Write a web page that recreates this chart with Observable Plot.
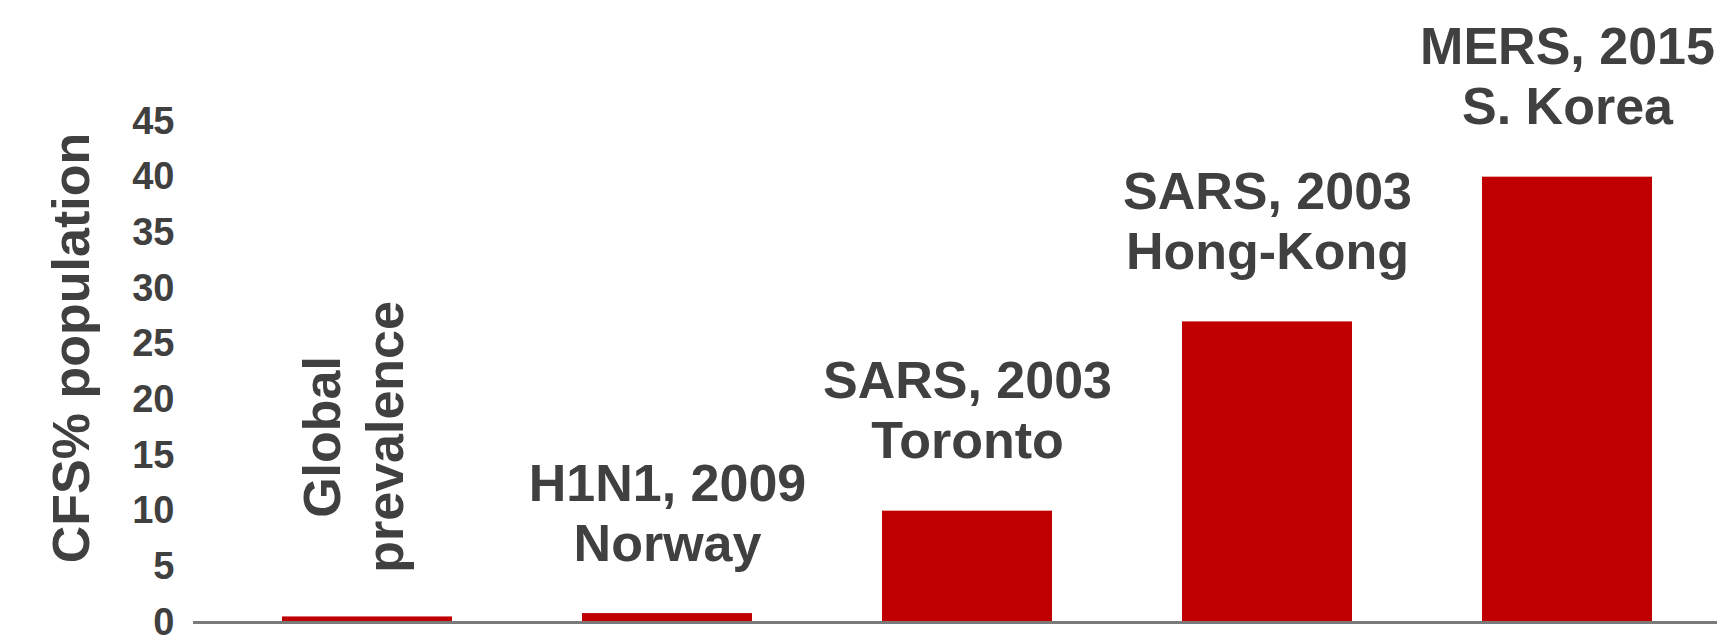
<!DOCTYPE html>
<html>
<head>
<meta charset="utf-8">
<script src="https://cdn.jsdelivr.net/npm/d3@7"></script>
<script src="https://cdn.jsdelivr.net/npm/@observablehq/plot@0.6"></script>
<style>
  html, body { margin: 0; padding: 0; background: #ffffff; }
</style>
</head>
<body>
<div id="chart"></div>
<script>
// Categories (bar labels) and values (CFS % of population)
const categories = [
  "Global\nprevalence",
  "H1N1, 2009\nNorway",
  "SARS, 2003\nToronto",
  "SARS, 2003\nHong-Kong",
  "MERS, 2015\nS. Korea"
];
const values = [0.5, 0.8, 10, 27, 40];
const yTicks = [0, 5, 10, 15, 20, 25, 30, 35, 40, 45];
const yLabel = "CFS% population";

const data = categories.map((c, i) => ({label: c, value: values[i]}));

const FONT = "'Liberation Sans', Arial, Helvetica, sans-serif";
const TEXT = "#404040";
const RED = "#C00000";

const chart = Plot.plot({
  width: 1722,
  height: 635,
  marginTop: 121,
  marginBottom: 13,
  marginLeft: 193,
  marginRight: 5,
  style: {fontFamily: FONT, fontSize: "38px", fontWeight: "bold", color: TEXT, background: "#ffffff"},
  x: {domain: categories, range: [217, 1717], paddingInner: 0.433, paddingOuter: 0.2165, axis: null},
  y: {domain: [0, 45], ticks: yTicks, tickSize: 0, tickPadding: 19, label: null, tickFormat: d => String(d)},
  marks: [
    Plot.barY(data, {x: "label", y: "value", fill: RED}),
    Plot.ruleY([0], {stroke: "#7a7a7a", strokeWidth: 3}),
    Plot.text(data.slice(1), {
      x: "label", y: "value", text: "label",
      lineAnchor: "bottom", lineHeight: 1.15, dy: -53,
      fontSize: 52, fontWeight: "bold", fill: TEXT
    }),
    Plot.text(data.slice(0, 1), {
      x: "label", y: "value", text: "label",
      rotate: -90, textAnchor: "middle", lineAnchor: "middle", lineHeight: 1.2,
      dx: -16, dy: -180,
      fontSize: 52, fontWeight: "bold", fill: TEXT
    }),
    Plot.text([yLabel], {
      frameAnchor: "left", rotate: -90, textAnchor: "middle", lineAnchor: "middle",
      dx: -121, dy: -24, fontSize: 52, fontWeight: "bold", fill: TEXT
    })
  ]
});

document.getElementById("chart").appendChild(chart);
</script>
</body>
</html>
